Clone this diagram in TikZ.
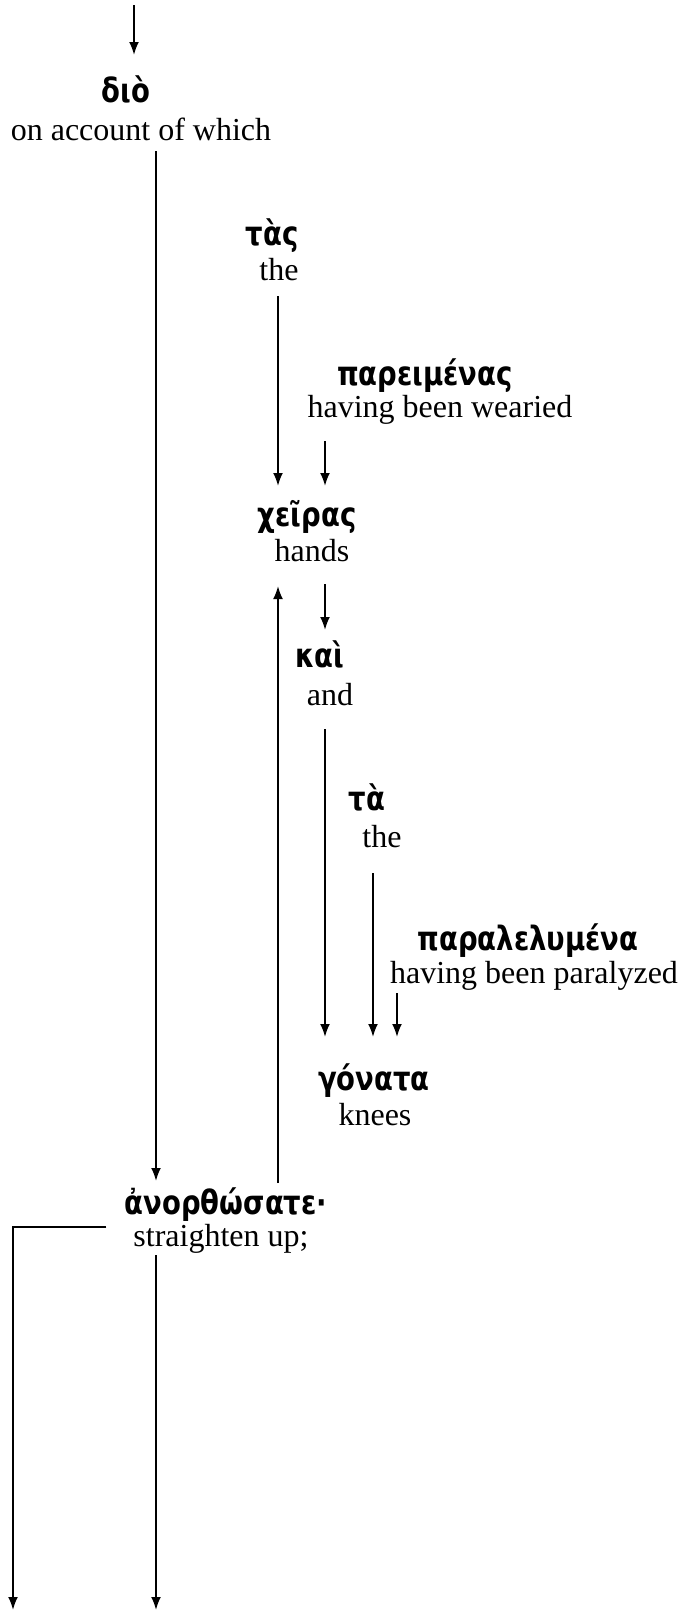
\documentclass[tikz,border=0pt]{standalone}
\usepackage{fontspec}
\setmainfont{Liberation Serif}
\newfontfamily\greekfont[FakeStretch=0.82]{DejaVu Sans}
\usetikzlibrary{arrows.meta}

\begin{document}
\begin{tikzpicture}[x=1pt,y=-1pt,line width=2pt,>={Latex[length=13pt,width=10pt]},
        gr/.style={font=\greekfont\bfseries\fontsize{33.5}{38}\selectfont,inner sep=0pt,anchor=base,text height=24pt,text depth=7pt},
        en/.style={font=\fontsize{32}{38}\selectfont,inner sep=0pt,anchor=base,text height=22pt,text depth=7pt},
        link/.style={->,shorten <=8pt,shorten >=12pt}]
        \useasboundingbox (0,0) rectangle (684,1612);
        % words: greek line and gloss below it
        \node[gr] (dio) at (126,102) {διὸ};
        \node[en] (dio-en) at (141,140) {on account of which};
        \node[gr] (tas) at (272,245) {τὰς};
        \node[en] (tas-en) at (279,280) {the};
        \node[gr] (pareim) at (425,385) {παρειμένας};
        \node[en] (pareim-en) at (440,417) {having been wearied};
        \node[gr] (cheiras) at (307,526) {χεῖρας};
        \node[en] (cheiras-en) at (312,561) {hands};
        \node[gr] (kai) at (320,667) {καὶ};
        \node[en] (kai-en) at (330,705) {and};
        \node[gr] (ta) at (367,810) {τὰ};
        \node[en] (ta-en) at (382,847) {the};
        \node[gr] (paral) at (528,950) {παραλελυμένα};
        \node[en] (paral-en) at (534,983) {having been paralyzed};
        \node[gr] (gonata) at (374,1090) {γόνατα};
        \node[en] (gonata-en) at (375,1125) {knees};
        \node[gr] (anor) at (226,1214) {ἀνορθώσατε·};
        \node[en] (anor-en) at (221,1246) {straighten up;};
        % loose ends
        \coordinate (top) at (134,5);
        \coordinate (end-mid) at (156,1610);
        \coordinate (end-left) at (13,1610);
        % arrows
        \draw[link,shorten <=0pt,shorten >=22pt] (top) -- (dio.north -| top);
        \draw[link,shorten <=3pt,shorten >=8pt] (dio-en.south -| 156,0) -- (anor.north -| 156,0);
        \draw[link,shorten >=15pt] (tas-en.south -| 278,0) -- (cheiras.north -| 278,0);
        \draw[link,shorten <=16pt,shorten >=15pt] (pareim-en.south -| 325,0) -- (cheiras.north -| 325,0);
        \draw[link,shorten <=6pt,shorten >=17pt] (anor.north -| 278,0) -- (cheiras-en.south -| 278,0);
        \draw[link,shorten <=15pt] (cheiras-en.south -| 325,0) -- (kai.north -| 325,0);
        \draw[link,shorten <=16pt,shorten >=28pt] (kai-en.south -| 325,0) -- (gonata.north -| 325,0);
        \draw[link,shorten <=18pt,shorten >=28pt] (ta-en.south -| 373,0) -- (gonata.north -| 373,0);
        \draw[link,shorten <=2pt,shorten >=28pt] (paral-en.south -| 397,0) -- (gonata.north -| 397,0);
        \draw[link,shorten <=1pt,shorten >=0pt] (anor-en.south -| end-mid) -- (end-mid);
        \draw[link,shorten <=26pt,shorten >=0pt] ([yshift=12pt]anor-en.west) -| (end-left);
\end{tikzpicture}
\end{document}
